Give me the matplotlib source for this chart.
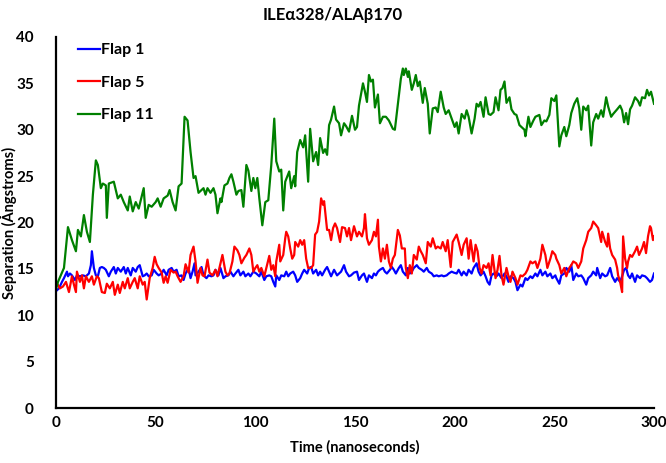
import matplotlib
matplotlib.use("Agg")
import matplotlib.pyplot as plt

# ---- data ----
flap1_t = [0, 1.5, 3, 4, 5.5, 6, 7, 8, 9.5, 10.5, 12, 13.5, 15, 16.5, 17.5, 18, 19, 20, 21, 22, 23, 24, 25, 26.5, 27.5, 29, 30, 31, 32.5, 34, 35, 36, 37.5, 38.5, 40, 41, 42, 43.5, 44.5, 45.5, 46.5, 48, 49, 50.5, 51.5, 53, 54, 55.5, 56.5, 58, 59, 60.5, 61.5, 63, 64, 65, 66.5, 67.5, 68.5, 69.5, 70, 71.5, 73, 74, 75.5, 76.5, 78, 79, 80, 81.5, 82.5, 84, 85, 86.5, 87.5, 89, 90, 91.5, 92.5, 94, 95, 96.5, 97.5, 99, 100.5, 102, 103, 104.5, 105.5, 107, 108, 109, 110, 110.5, 112, 113, 114.5, 115.5, 116.5, 117.5, 119, 120, 121, 122.5, 123.5, 124.5, 126, 127, 128, 129, 130.5, 131.5, 132.5, 133.5, 135, 136, 137, 138, 139.5, 141, 142, 143, 144.5, 145.5, 147, 148, 149.5, 151, 152, 153.5, 154.5, 156, 157, 158.5, 159.5, 160.5, 161.5, 162.5, 164, 165, 166, 167.5, 168.5, 169.5, 170.5, 172, 173, 174, 175.5, 176.5, 177.5, 178.5, 179.5, 181, 182, 183.5, 184.5, 186, 187, 188.5, 189.5, 191, 192, 193.5, 194.5, 196, 197, 198.5, 199.5, 201, 202, 203.5, 204.5, 206, 207, 208.5, 209.5, 211, 212, 213, 214.5, 215.5, 216.5, 217.5, 218.5, 219.5, 221, 222, 223.5, 225, 226, 227, 228, 229.5, 230.5, 231.5, 233, 234, 235.5, 236.5, 238, 239, 240.5, 241.5, 243, 244, 245.5, 246.5, 248, 249, 250.5, 251, 252.5, 253.5, 255, 256, 257.5, 258.5, 259.5, 261, 262, 263.5, 264.5, 266, 267, 268.5, 269.5, 271, 271.5, 273, 274, 275.5, 276.5, 278, 279, 280.5, 281.5, 283, 284, 285, 286, 287, 288, 289, 290.5, 291.5, 293, 294, 295.5, 296.5, 298, 299, 300]
flap1_v = [12.6, 12.9, 13.6, 14.0, 14.7, 14.2, 14.5, 14.3, 13.8, 14.3, 14.2, 14.3, 14.2, 14.5, 15.4, 16.9, 15.1, 14.3, 14.2, 15.1, 15.2, 15.1, 14.9, 14.2, 14.7, 15.2, 14.5, 15.1, 14.7, 15.2, 14.5, 15.1, 14.3, 15.1, 14.7, 15.2, 15.4, 14.2, 14.3, 14.5, 14.2, 14.3, 14.9, 14.5, 14.3, 14.5, 14.9, 14.3, 14.9, 15.1, 14.7, 14.9, 14.2, 14.3, 13.8, 14.5, 15.1, 14.0, 14.7, 15.6, 14.3, 14.7, 15.2, 14.3, 14.0, 14.3, 14.2, 14.3, 14.9, 14.3, 15.1, 14.0, 14.2, 14.3, 14.7, 14.2, 14.5, 14.9, 14.3, 14.7, 14.2, 14.5, 14.2, 14.7, 14.5, 14.2, 14.7, 13.8, 14.2, 14.3, 14.2, 13.6, 13.1, 14.3, 13.8, 14.3, 14.2, 14.7, 14.2, 14.5, 14.7, 14.3, 13.6, 14.0, 14.5, 14.9, 14.5, 15.1, 15.2, 14.5, 14.9, 14.3, 14.7, 14.3, 14.9, 15.2, 14.7, 14.2, 14.9, 14.3, 14.5, 14.7, 15.4, 14.7, 14.2, 14.3, 14.6, 14.7, 13.8, 14.3, 14.5, 13.6, 14.3, 14.0, 14.5, 14.3, 14.7, 14.9, 15.1, 14.7, 14.5, 14.9, 15.2, 14.9, 14.5, 15.1, 15.4, 14.7, 14.3, 15.1, 14.5, 14.7, 15.1, 15.4, 15.1, 14.9, 14.7, 15.1, 14.7, 14.5, 14.2, 14.3, 14.2, 14.3, 14.2, 14.3, 14.5, 14.7, 14.6, 14.5, 14.9, 14.3, 14.7, 14.3, 14.9, 14.5, 15.1, 15.6, 14.7, 14.3, 14.7, 14.2, 13.6, 13.3, 14.3, 14.5, 14.2, 14.5, 14.0, 14.5, 14.2, 13.6, 14.2, 14.0, 13.6, 12.7, 13.3, 13.1, 14.0, 13.8, 14.2, 14.0, 14.5, 14.2, 14.9, 14.3, 14.7, 14.2, 14.5, 14.0, 14.3, 14.0, 13.4, 14.3, 14.5, 15.1, 14.7, 15.4, 13.8, 14.5, 14.2, 14.3, 14.0, 13.3, 14.0, 14.3, 14.7, 14.3, 15.1, 14.0, 14.5, 14.2, 14.3, 15.1, 14.2, 13.6, 14.0, 13.6, 14.2, 14.9, 15.1, 14.3, 14.0, 14.5, 13.6, 14.3, 14.0, 14.3, 14.2, 14.0, 13.6, 13.8, 14.5]

flap5_t = [0, 2, 3.5, 5, 6.5, 8, 9, 10, 10.5, 12, 13, 14, 15, 16.5, 18, 19, 20.5, 21.5, 23, 24.5, 25.5, 27, 28.5, 29.5, 31, 32, 33.5, 34.5, 36, 37, 38.5, 39.5, 41, 42, 43.5, 44.5, 45.5, 47, 48.5, 49.5, 50.5, 51.5, 53, 54, 55, 56, 57.5, 59, 60, 61, 62.5, 64, 65, 66.5, 67.5, 69, 70, 71, 72.5, 73.5, 74.5, 76, 77, 78.5, 80, 81, 82, 83.5, 85, 86, 87, 88.5, 89.5, 91, 92, 93, 94.5, 95.5, 97, 98, 99, 100, 101, 102, 103, 104.5, 105.5, 107, 108, 109, 110, 110.5, 112, 112.5, 114, 115, 115.5, 116.5, 117.5, 118.5, 119.5, 120, 121.5, 122.5, 123.5, 124.5, 125.5, 126.5, 128, 129, 130, 131, 132, 133, 134, 134.5, 135.5, 136, 137, 138, 139, 140, 141, 142.5, 143.5, 145, 146, 147, 148, 149.5, 151, 152, 153.5, 154.5, 155, 156, 157, 158.5, 159.5, 160.5, 161.5, 162, 163, 164, 165, 166, 167, 168, 169, 170, 171.5, 172.5, 173.5, 175, 175.5, 176.5, 177.5, 178.5, 179.5, 181, 182, 183, 184, 185.5, 186.5, 188, 189, 190.5, 191.5, 193, 194, 195.5, 196.5, 198, 199, 200.5, 201, 202, 203.5, 204.5, 206, 207, 208, 209.5, 210.5, 211.5, 212.5, 213.5, 214.5, 216, 217, 218, 219, 220.5, 221.5, 222.5, 223.5, 224.5, 226, 227, 228, 229, 230.5, 231.5, 233, 234, 235.5, 236.5, 238, 239, 240.5, 241.5, 243, 244, 245.5, 246.5, 248, 249, 250.5, 251, 252.5, 253.5, 255, 256, 257.5, 258.5, 259.5, 261, 262, 263.5, 264.5, 266, 267, 268.5, 269.5, 271, 272, 273.5, 274, 275.5, 276.5, 277, 278, 279, 280.5, 281.5, 282, 283, 284, 284.5, 285.5, 286.5, 287, 288, 289, 290.5, 291.5, 292.5, 294, 295, 296, 297, 298, 298.5, 299.5, 300]
flap5_v = [13.6, 12.9, 13.1, 13.6, 12.5, 14.2, 13.3, 12.5, 14.7, 13.6, 14.3, 12.9, 14.2, 13.6, 14.2, 13.3, 14.2, 14.0, 12.5, 12.4, 13.4, 12.9, 13.6, 12.2, 13.3, 12.4, 13.6, 12.9, 14.0, 12.9, 13.6, 14.0, 12.9, 14.2, 13.3, 13.6, 11.7, 14.0, 15.1, 16.3, 15.5, 15.1, 14.6, 13.5, 14.2, 13.5, 14.9, 14.6, 14.7, 14.2, 13.6, 14.2, 15.5, 14.6, 16.5, 17.4, 15.8, 13.5, 15.1, 14.3, 14.2, 16.0, 14.6, 14.3, 14.9, 14.2, 15.1, 16.5, 14.7, 14.3, 14.5, 15.8, 17.4, 17.0, 16.5, 15.6, 16.2, 16.5, 17.2, 16.5, 14.7, 15.1, 15.4, 14.7, 15.1, 14.2, 15.1, 16.4, 14.9, 15.4, 14.2, 15.8, 17.6, 15.8, 16.5, 18.3, 19.0, 18.5, 17.2, 16.1, 16.5, 17.9, 17.4, 18.1, 17.6, 18.1, 16.1, 15.1, 15.1, 15.4, 18.7, 19.0, 20.1, 22.6, 21.9, 22.3, 20.3, 19.2, 19.2, 18.1, 19.4, 19.9, 19.4, 17.9, 19.5, 19.4, 18.5, 19.4, 18.1, 19.6, 18.5, 19.0, 18.5, 19.4, 20.9, 18.3, 17.6, 18.1, 19.0, 18.5, 20.3, 17.4, 15.8, 17.2, 16.1, 17.6, 15.8, 15.1, 16.1, 16.5, 19.2, 18.6, 17.2, 17.2, 15.1, 14.0, 15.4, 14.5, 16.5, 16.0, 17.4, 16.9, 16.5, 15.6, 17.9, 17.4, 18.3, 17.2, 17.4, 17.2, 17.9, 16.9, 18.1, 15.2, 17.9, 18.5, 18.7, 17.9, 16.5, 17.6, 18.3, 16.1, 18.1, 15.8, 17.6, 16.9, 15.1, 14.5, 15.4, 15.1, 15.6, 14.3, 16.5, 14.0, 14.9, 16.4, 14.3, 13.3, 15.1, 14.2, 13.6, 14.7, 14.0, 13.3, 14.3, 14.2, 14.5, 14.9, 15.8, 15.6, 15.8, 15.1, 16.1, 17.6, 16.5, 15.1, 16.1, 16.9, 16.5, 16.1, 15.4, 14.5, 15.1, 14.2, 15.1, 15.4, 15.8, 15.6, 15.1, 15.8, 17.2, 18.1, 19.0, 19.4, 20.1, 19.7, 19.4, 17.9, 19.0, 17.9, 17.4, 18.8, 17.2, 16.5, 16.0, 15.1, 14.3, 13.6, 12.5, 18.5, 16.1, 15.1, 15.8, 16.5, 16.3, 16.9, 17.4, 16.5, 17.2, 17.9, 16.7, 18.5, 19.6, 19.4, 18.1, 18.5]

flap11_t = [0, 1, 4, 6, 8, 10, 11, 12.5, 14, 15.5, 17, 18.5, 20, 21, 22.5, 23.5, 25, 25.5, 26.5, 29, 31, 32.5, 34, 36, 37, 38.5, 40, 41.5, 44, 45, 46.5, 48, 50, 51, 52.5, 54, 56, 57, 58.5, 60, 61.5, 63, 64.5, 66, 67.5, 69, 70, 71.5, 72.5, 74, 75, 76, 77.5, 79, 80, 81, 82.5, 83, 84.5, 86, 87, 88, 89, 90.5, 91.5, 93, 94, 95.5, 96.5, 98, 99, 100, 101, 102, 103.5, 105, 106.5, 108, 109.5, 110.5, 112, 113, 114, 115, 117, 118, 119.5, 120, 121, 122.5, 124, 125, 126.5, 127.5, 129, 130.5, 131.5, 132.5, 134, 135, 136, 137, 138, 139.5, 140.5, 142, 143, 144.5, 145.5, 147, 148.5, 150, 151, 152, 154, 155, 156, 157, 158, 159, 160, 161.5, 162.5, 164, 165.5, 167, 169, 170, 172, 173, 174, 174.5, 175.5, 176.5, 177, 178.5, 179.5, 180.5, 181.5, 182.5, 184, 185, 186.5, 187.5, 189, 190.5, 191.5, 193, 194.5, 195.5, 197, 198.5, 200, 201, 202, 203.5, 205, 206, 207, 208.5, 210, 211, 212, 213, 214.5, 215.5, 217, 218, 219.5, 220.5, 222, 223, 224, 225, 226, 227.5, 228.5, 230, 231, 232.5, 233.5, 235, 235.5, 237, 238, 239.5, 240.5, 242.5, 243.5, 245, 246, 247.5, 248.5, 250, 251, 252.5, 253.5, 255, 256, 257.5, 258.5, 260, 261.5, 262.5, 263.5, 264.5, 266, 267, 268.5, 269.5, 271, 272, 273.5, 274.5, 276, 277, 278.5, 279.5, 281.5, 283, 284, 285, 286, 287, 288, 289, 290.5, 292, 293, 294, 295.5, 296.5, 297.5, 298.5, 300]
flap11_v = [12.8, 13.6, 15.1, 19.5, 18.1, 16.9, 19.2, 18.5, 20.8, 19.0, 17.9, 23.0, 26.7, 26.2, 23.7, 24.2, 24.0, 20.5, 24.2, 24.4, 22.6, 23.0, 22.2, 21.3, 22.8, 21.2, 22.2, 21.5, 23.7, 20.5, 21.9, 21.7, 22.2, 22.6, 21.7, 22.6, 22.9, 23.5, 22.2, 21.3, 23.9, 24.2, 31.4, 31.0, 27.6, 24.8, 25.0, 23.2, 23.4, 23.7, 23.0, 23.7, 23.2, 23.7, 23.0, 21.0, 22.6, 22.2, 24.0, 24.2, 24.8, 25.2, 24.4, 23.0, 23.4, 23.5, 21.7, 26.2, 25.6, 23.4, 24.8, 23.7, 24.8, 22.6, 19.7, 22.2, 22.4, 26.2, 31.2, 26.6, 25.5, 25.7, 21.3, 24.4, 25.5, 23.7, 25.0, 23.9, 27.6, 28.9, 28.1, 29.4, 24.4, 30.1, 26.6, 27.6, 26.2, 29.1, 27.5, 27.9, 27.3, 30.5, 31.1, 32.5, 31.1, 30.7, 29.4, 30.7, 30.4, 29.8, 31.5, 30.0, 30.3, 32.6, 35.0, 34.1, 33.0, 35.9, 35.2, 35.4, 32.4, 33.8, 30.7, 31.4, 31.4, 31.0, 30.1, 30.0, 33.7, 35.5, 36.6, 35.9, 36.6, 35.7, 36.3, 34.3, 35.0, 35.9, 34.7, 35.2, 32.9, 34.5, 32.8, 29.6, 32.3, 32.4, 31.9, 34.1, 32.4, 31.7, 32.1, 31.2, 30.3, 30.8, 29.6, 31.7, 31.2, 32.1, 31.4, 29.6, 31.2, 32.8, 32.5, 33.0, 31.4, 33.5, 31.7, 31.6, 31.9, 33.5, 32.1, 34.3, 34.5, 35.2, 32.9, 33.5, 32.2, 31.7, 31.6, 30.5, 30.3, 30.0, 29.3, 31.4, 30.3, 31.0, 31.4, 31.6, 30.5, 31.0, 30.9, 31.6, 33.4, 33.1, 33.7, 28.2, 29.4, 30.3, 29.3, 30.5, 31.8, 32.8, 33.4, 32.3, 30.0, 32.5, 32.1, 32.6, 28.3, 30.8, 31.7, 31.2, 32.1, 31.4, 33.5, 32.5, 31.4, 31.7, 32.2, 32.6, 32.1, 30.8, 31.8, 30.6, 32.2, 32.6, 33.5, 33.1, 32.6, 33.5, 33.4, 34.3, 33.7, 34.1, 32.8]

series_labels = ["Flap 1", "Flap 5", "Flap 11"]
series_colors = ["#0000FF", "#FF0000", "#008000"]
x_ticks = [0, 50, 100, 150, 200, 250, 300]
y_ticks = [0, 5, 10, 15, 20, 25, 30, 35, 40]
title = "ILE\u03b1328/ALA\u03b2170"
x_label = "Time (nanoseconds)"
y_label = "Separation (\u00c5ngstroms)"

plt.rcParams['font.family'] = ['Lato', 'DejaVu Sans']
plt.rcParams['font.weight'] = 'bold'

fig = plt.figure(figsize=(6.66, 4.63), dpi=100)
ax = fig.add_axes([56/666, 55/463, 598/666, 371/463])

for t, v, lab, c in zip([flap1_t, flap5_t, flap11_t],
                        [flap1_v, flap5_v, flap11_v],
                        series_labels, series_colors):
    ax.plot(t, v, color=c, lw=1.6, label=lab)

ax.set_xlim(0, 300)
ax.set_ylim(0, 40)
ax.set_xticks(x_ticks)
ax.set_yticks(y_ticks)
ax.tick_params(length=0, labelsize=11)
ax.tick_params(axis='y', pad=16)
ax.tick_params(axis='x', pad=6)
for lbl in ax.get_xticklabels() + ax.get_yticklabels():
    lbl.set_fontweight('bold')

for s in ['top', 'right']:
    ax.spines[s].set_visible(False)
for s in ['left', 'bottom']:
    ax.spines[s].set_linewidth(1.6)
    ax.spines[s].set_color('black')

ax.set_xlabel(x_label, fontsize=10.5, fontweight='bold', labelpad=7)
ax.set_ylabel(y_label, fontsize=10.5, fontweight='bold')
ax.yaxis.set_label_coords(-0.0645, 0.5)
fig.text(0.5, 1 - 15/463, title, ha='center', va='center', fontsize=12, fontweight='bold')

leg = ax.legend(loc='upper left', bbox_to_anchor=(78/666, 1 - 43/463),
                bbox_transform=fig.transFigure, frameon=False,
                handlelength=1.35, handletextpad=0.1, labelspacing=1.15,
                borderpad=0, borderaxespad=0, prop={'size': 11.5, 'weight': 'bold'})

fig.savefig("out.png", dpi=100)
